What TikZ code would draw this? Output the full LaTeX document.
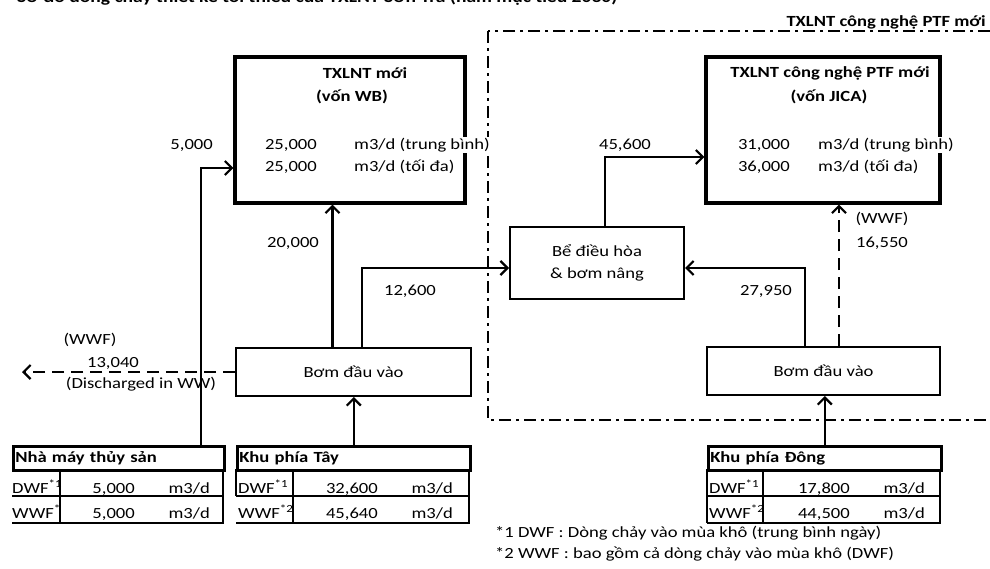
\documentclass[tikz,border=0pt]{standalone}
\usepackage{fontspec}
\setmainfont{Carlito}[FakeStretch=1.2]
\usetikzlibrary{positioning,arrows.meta,calc}
\newcommand{\fs}{\fontsize{15.5}{18}\selectfont}
\tikzset{
  box/.style={draw, line width=2pt, inner sep=0pt, align=center},
  plant/.style={box, line width=3.2pt, minimum width=230pt, minimum height=146pt},
  pump/.style={box, minimum height=48pt},
  txt/.style={inner sep=0pt},
  hdr/.style={txt, font=\fs\bfseries},
  % unit labels run over the box edge: opaque, so the edge stops there
  unit/.style={txt, fill=white, inner sep=1pt},
  tabhead/.style={draw, line width=2.6pt, anchor=north west, minimum height=24pt,
                  inner xsep=2pt, inner ysep=0pt, align=left, font=\fs\bfseries},
  grid/.style={line width=2.6pt},
  flow/.style={-{Straight Barb[length=7pt,width=14pt]}, line width=2.2pt},
  wet/.style={flow, dash pattern=on 12pt off 7pt},
  frame/.style={line width=2.8pt, dash pattern=on 12pt off 5pt on 3pt off 5pt},
}

\begin{document}
\begin{tikzpicture}[x=1pt, y=1pt, font=\fs]
\useasboundingbox (0,0) rectangle (990,-568);

%% ── title, cut by the page top ───────────────────────────────────────────
\node[hdr, font=\fontsize{16.3}{19}\selectfont\bfseries, anchor=base west] (title) at (17,-2)
  {Sơ đồ dòng chảy thiết kế tối thiểu của TXLNT Sơn Trà (năm mục tiêu 2030)};

%% ── PTF frame ────────────────────────────────────────────────────────────
\draw[frame] (488,-31) rectangle (1000,-420);
\node[hdr, anchor=base east] (ptflbl) at (986,-26) {TXLNT công nghệ PTF mới};

%% ── plants ───────────────────────────────────────────────────────────────
\node[plant] (wb) at (350,-130) {};
\node[hdr, anchor=base] (wbname) at (365,-78) {TXLNT mới};
\node[hdr, anchor=base] (wbfund) at (352,-101) {(vốn WB)};
\node[txt, anchor=base east] (wbavg) at (317,-149) {25,000};
\node[unit, anchor=base west] (wbavgu) at (353,-149) {m3/d (trung bình)};
\node[txt, anchor=base east] (wbmax) at (317,-171) {25,000};
\node[unit, anchor=base west] (wbmaxu) at (353,-171) {m3/d (tối đa)};

\node[plant, minimum width=234pt] (ptf) at (823,-130) {};
\node[hdr, anchor=base] (ptfname) at (830,-77) {TXLNT công nghệ PTF mới};
\node[hdr, anchor=base] (ptffund) at (829,-101) {(vốn JICA)};
\node[txt, anchor=base east] (ptfavg) at (790,-149) {31,000};
\node[unit, anchor=base west] (ptfavgu) at (817,-149) {m3/d (trung bình)};
\node[txt, anchor=base east] (ptfmax) at (790,-171) {36,000};
\node[unit, anchor=base west] (ptfmaxu) at (817,-171) {m3/d (tối đa)};

%% ── tank and pumps ───────────────────────────────────────────────────────
\node[box, minimum width=174pt, minimum height=72pt] (eq) at (597,-263)
  {Bể điều hòa\\[4pt] \& bơm nâng};
\node[pump, minimum width=235pt] (pw) at (353.5,-372) {Bơm đầu vào};
\node[pump, minimum width=233pt] (pe) at (823.5,-371) {Bơm đầu vào};

%% ── inflow tables ────────────────────────────────────────────────────────
\node[tabhead, text width=207pt] (fish) at (12,-445) {Nhà máy thủy sản};
\node[tabhead, text width=229pt] (tay) at (236,-445) {Khu phía Tây};
\node[tabhead, text width=229pt] (dong) at (707,-445) {Khu phía Đông};
\foreach \l/\s/\r in {12/60/223, 236/293/469, 707/763/940} {
  \draw[grid] (\r,-469) -- (\r,-523) -- (\l,-523);
  \draw[grid] (\l,-496) -- (\r,-496);
  \draw[grid] (\s,-469) -- (\s,-523);
}
\draw[grid] (236,-469) -- (236,-496);
\draw[grid] (707,-469) -- (707,-523);

\node[txt, anchor=base west] (fishd) at (12,-493) {DWF\textsuperscript{*1}};
\node[txt, anchor=base east] at (135,-493) {5,000};
\node[txt, anchor=base east] at (210,-493) {m3/d};
\node[txt, anchor=base west] (fishw) at (12,-518) {WWF\textsuperscript{*}};
\node[txt, anchor=base east] at (135,-518) {5,000};
\node[txt, anchor=base east] at (210,-518) {m3/d};

\node[txt, anchor=base west] (tayd) at (238,-493) {DWF\textsuperscript{*1}};
\node[txt, anchor=base east] at (378,-493) {32,600};
\node[txt, anchor=base east] at (453,-493) {m3/d};
\node[txt, anchor=base west] (tayw) at (238,-518) {WWF\textsuperscript{*2}};
\node[txt, anchor=base east] at (378,-518) {45,640};
\node[txt, anchor=base east] at (453,-518) {m3/d};

\node[txt, anchor=base west] (dongd) at (709,-493) {DWF\textsuperscript{*1}};
\node[txt, anchor=base east] at (850,-493) {17,800};
\node[txt, anchor=base east] at (925,-493) {m3/d};
\node[txt, anchor=base west] (dongw) at (709,-518) {WWF\textsuperscript{*2}};
\node[txt, anchor=base east] at (850,-518) {44,500};
\node[txt, anchor=base east] at (925,-518) {m3/d};

\node[txt, anchor=base west] (note1) at (495,-537)
  {*1 DWF : Dòng chảy vào mùa khô (trung bình ngày)};
\node[txt, anchor=base west] (note2) at (495,-558)
  {*2 WWF : bao gồm cả dòng chảy vào mùa khô (DWF)};

%% ── flows ────────────────────────────────────────────────────────────────
\coordinate (fishout) at (201,-447);
\coordinate (drain) at (22,-372);
\draw[flow] (fishout) |- ([yshift=-38pt]wb.west);
\node[txt, anchor=base east] at (213,-149) {5,000};

\draw[flow] (tay.north) -- (tay.north |- pw.south);

\draw[flow] ([xshift=-21pt]pw.north) -- ([xshift=-21pt]pw.north |- wb.south);
\node[txt, anchor=base] at (293,-247) {20,000};

\draw[flow] ([xshift=8.5pt]pw.north) |- ([yshift=-5pt]eq.west);
\node[txt, anchor=base] at (410,-295) {12,600};

\draw[wet] (pw.west) -- (drain);
\node[txt, anchor=base] at (90,-344) {(WWF)};
\node[txt, anchor=base] at (113,-367) {13,040};
\node[txt, anchor=base] at (141,-388) {(Discharged in WW)};

\draw[flow] ([xshift=8pt]eq.north) |- ([yshift=-27pt]ptf.west);
\node[txt, anchor=base] at (625,-149) {45,600};

\draw[flow] ([xshift=-18.5pt]pe.north) |- ([yshift=-5pt]eq.east);
\node[txt, anchor=base] at (766,-295) {27,950};

\draw[wet] ([xshift=15.5pt]pe.north) -- ([xshift=15.5pt]pe.north |- ptf.south);
\node[txt, anchor=base] at (882,-223) {(WWF)};
\node[txt, anchor=base] at (882,-247) {16,550};

\draw[flow] (dong.north) -- (dong.north |- pe.south);

\end{tikzpicture}
\end{document}
